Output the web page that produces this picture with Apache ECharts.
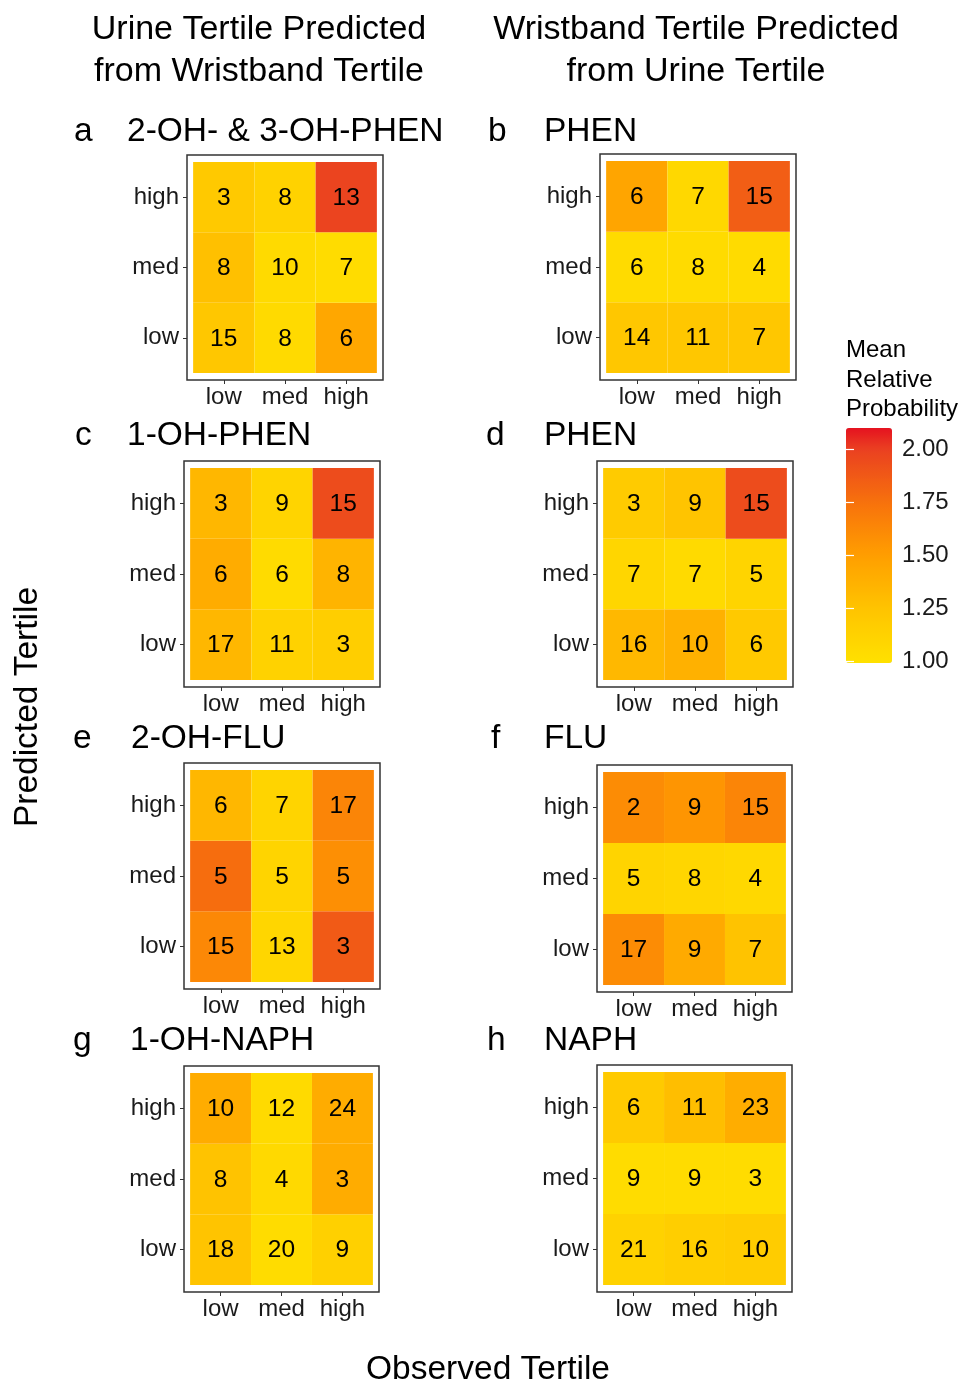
<!DOCTYPE html>
<html>
<head>
<meta charset="utf-8">
<script src="https://cdn.jsdelivr.net/npm/echarts@6/dist/echarts.min.js"></script>
<style>
html,body{margin:0;padding:0;background:#fff;}
#chart{width:962px;height:1384px;}
</style>
</head>
<body>
<div id="chart"></div>
<script>
// ---------- data ----------
const tertiles = ['low', 'med', 'high'];
const panelLetters = ['a', 'b', 'c', 'd', 'e', 'f', 'g', 'h'];
const panelTitles = ['2-OH- & 3-OH-PHEN', 'PHEN', '1-OH-PHEN', 'PHEN', '2-OH-FLU', 'FLU', '1-OH-NAPH', 'NAPH'];
const columnTitles = ['Urine Tertile Predicted\nfrom Wristband Tertile', 'Wristband Tertile Predicted\nfrom Urine Tertile'];
const xTitle = 'Observed Tertile';
const yTitle = 'Predicted Tertile';
const legendTitle = 'Mean\nRelative\nProbability';
const legendTicks = [1.00, 1.25, 1.50, 1.75, 2.00];

// rows: predicted low, med, high ; columns: observed low, med, high
const countsA = [[15, 8, 6], [8, 10, 7], [3, 8, 13]];
const countsB = [[14, 11, 7], [6, 8, 4], [6, 7, 15]];
const countsC = [[17, 11, 3], [6, 6, 8], [3, 9, 15]];
const countsD = [[16, 10, 6], [7, 7, 5], [3, 9, 15]];
const countsE = [[15, 13, 3], [5, 5, 5], [6, 7, 17]];
const countsF = [[17, 9, 7], [5, 8, 4], [2, 9, 15]];
const countsG = [[18, 20, 9], [8, 4, 3], [10, 12, 24]];
const countsH = [[21, 16, 10], [9, 9, 3], [6, 11, 23]];

// mean relative probability (fill colour)
const probA = [[1.22, 1.05, 1.44], [1.27, 1.05, 1.03], [1.20, 1.12, 1.98]];
const probB = [[1.22, 1.22, 1.22], [1.04, 1.04, 1.04], [1.45, 1.07, 1.85]];
const probC = [[1.33, 1.12, 1.15], [1.41, 1.04, 1.35], [1.33, 1.10, 1.94]];
const probD = [[1.32, 1.37, 1.20], [1.08, 1.05, 1.10], [1.18, 1.24, 1.94]];
const probE = [[1.62, 1.08, 1.87], [1.77, 1.10, 1.58], [1.33, 1.10, 1.64]];
const probF = [[1.60, 1.42, 1.25], [1.10, 1.08, 1.07], [1.60, 1.55, 1.64]];
const probG = [[1.24, 1.03, 1.14], [1.25, 1.06, 1.41], [1.41, 1.05, 1.41]];
const probH = [[1.12, 1.15, 1.17], [1.03, 1.03, 1.03], [1.19, 1.28, 1.40]];

const allCounts = [countsA, countsB, countsC, countsD, countsE, countsF, countsG, countsH];
const allProbs = [probA, probB, probC, probD, probE, probF, probG, probH];

const probMin = 0.99, probMax = 2.10;

// ---------- layout / style ----------
const FONT = "'Liberation Sans', Arial, sans-serif";
const TXT = '#1a1a1a';
const grids = [
  {left: 187, top: 155, width: 196, height: 225},
  {left: 600, top: 154, width: 196, height: 226},
  {left: 184, top: 461, width: 196, height: 226},
  {left: 597, top: 461, width: 196, height: 226},
  {left: 184, top: 763, width: 196, height: 226},
  {left: 597, top: 765, width: 195, height: 227},
  {left: 184, top: 1066, width: 195, height: 226},
  {left: 597, top: 1065, width: 195, height: 227}
];
const titlePos = [
  [74, 127, 132], [488, 544, 132],
  [75, 127, 436], [486, 544, 436],
  [73, 131, 739], [491, 544, 739],
  [73, 130, 1041], [487, 544, 1041]
];
const colorStops = [
  [0.99, [255, 225, 0]],
  [1.25, [255, 195, 0]],
  [1.50, [255, 158, 0]],
  [1.75, [247, 113, 12]],
  [2.00, [234, 65, 33]],
  [2.10, [229, 18, 32]]
];
function colorAt(v) {
  for (let i = 0; i < colorStops.length - 1; i++) {
    const [v0, c0] = colorStops[i], [v1, c1] = colorStops[i + 1];
    if (v <= v1) {
      const t = (v - v0) / (v1 - v0);
      const c = c0.map((k, j) => Math.round(k + (c1[j] - k) * t));
      return 'rgb(' + c.join(',') + ')';
    }
  }
  return 'rgb(' + colorStops[colorStops.length - 1][1].join(',') + ')';
}
const rampColors = [];
for (let i = 0; i <= 36; i++) rampColors.push(colorAt(probMin + (probMax - probMin) * i / 36));

// ---------- option ----------
const option = {
  animation: false,
  backgroundColor: '#fff',
  grid: [],
  xAxis: [],
  yAxis: [],
  series: [],
  graphic: [],
  visualMap: {
    type: 'continuous',
    min: probMin,
    max: probMax,
    dimension: 2,
    seriesIndex: [0, 1, 2, 3, 4, 5, 6, 7],
    calculable: false,
    hoverLink: false,
    orient: 'vertical',
    left: 846,
    top: 428,
    padding: 0,
    itemWidth: 46,
    itemHeight: 235,
    text: null,
    showLabel: false,
    inRange: {color: rampColors}
  }
};

grids.forEach((g, i) => {
  option.grid.push(Object.assign({show: true, borderColor: '#333', borderWidth: 1.5, backgroundColor: '#fff', containLabel: false}, g));
  const axisCommon = {
    type: 'value', gridIndex: i, min: 0.4, max: 3.6,
    axisLine: {show: false},
    splitLine: {show: false},
    axisTick: {show: true, length: 4, lineStyle: {color: '#333', width: 1}, customValues: [1, 2, 3]},
    axisLabel: {customValues: [1, 2, 3], formatter: v => tertiles[Math.round(v) - 1], fontSize: 24, fontFamily: FONT, color: TXT}
  };
  option.xAxis.push(Object.assign({}, axisCommon, {axisLabel: Object.assign({}, axisCommon.axisLabel, {margin: 5})}));
  option.yAxis.push(Object.assign({}, axisCommon, {axisLabel: Object.assign({}, axisCommon.axisLabel, {margin: 8})}));
  const data = [];
  allCounts[i].forEach((row, r) => row.forEach((n, c) => data.push([c + 1, r + 1, allProbs[i][r][c], n])));
  option.series.push({
    type: 'custom',
    xAxisIndex: i,
    yAxisIndex: i,
    data: data,
    z: 3,
    renderItem: function (params, api) {
      const x = api.value(0), y = api.value(1);
      const p0 = api.coord([x - 0.5, y + 0.5]);
      const p1 = api.coord([x + 0.5, y - 0.5]);
      return {
        type: 'group',
        children: [
          {type: 'rect', shape: {x: p0[0], y: p0[1], width: p1[0] - p0[0], height: p1[1] - p0[1]}, style: {fill: api.visual('color')}},
          {type: 'text', style: {text: String(api.value(3)), x: (p0[0] + p1[0]) / 2, y: (p0[1] + p1[1]) / 2 + 1, align: 'center', verticalAlign: 'middle', fontSize: 24.5, fontFamily: FONT, fill: '#000'}}
        ]
      };
    }
  });
  const tp = titlePos[i];
  option.graphic.push({type: 'text', x: tp[0], y: tp[2], style: {text: panelLetters[i], fontSize: 33.5, fontFamily: FONT, fill: '#000', align: 'left', verticalAlign: 'middle'}});
  option.graphic.push({type: 'text', x: tp[1], y: tp[2], style: {text: panelTitles[i], fontSize: 33.5, fontFamily: FONT, fill: '#000', align: 'left', verticalAlign: 'middle'}});
});

// colour bar axes (labels and white ticks)
option.grid.push({left: 846, top: 428, width: 46, height: 235, show: false});
option.xAxis.push({type: 'value', gridIndex: 8, show: false, min: 0, max: 1});
const cbAxis = {
  type: 'value', gridIndex: 8, min: probMin, max: probMax, z: 10,
  axisLine: {show: false}, splitLine: {show: false},
  axisTick: {show: true, inside: true, length: 8, lineStyle: {color: '#fff', width: 1.2}, customValues: legendTicks}
};
option.yAxis.push(Object.assign({}, cbAxis, {position: 'right',
  axisLabel: {customValues: legendTicks, formatter: v => v.toFixed(2), fontSize: 24, fontFamily: FONT, color: TXT, margin: 10}}));
option.yAxis.push(Object.assign({}, cbAxis, {position: 'left', axisLabel: {show: false}}));

// shared texts
option.graphic.push({type: 'text', x: 259, y: 51, style: {text: columnTitles[0], fontSize: 34, lineHeight: 42, fontFamily: FONT, fill: '#000', align: 'center', verticalAlign: 'middle'}});
option.graphic.push({type: 'text', x: 696, y: 51, style: {text: columnTitles[1], fontSize: 34, lineHeight: 42, fontFamily: FONT, fill: '#000', align: 'center', verticalAlign: 'middle'}});
option.graphic.push({type: 'text', x: 488, y: 1370, style: {text: xTitle, fontSize: 33.5, fontFamily: FONT, fill: '#000', align: 'center', verticalAlign: 'middle'}});
option.graphic.push({type: 'text', x: 28, y: 707, rotation: Math.PI / 2, style: {text: yTitle, fontSize: 33.5, fontFamily: FONT, fill: '#000', align: 'center', verticalAlign: 'middle'}});
option.graphic.push({type: 'text', x: 846, y: 380, style: {text: legendTitle, fontSize: 24, lineHeight: 29.5, fontFamily: FONT, fill: '#000', align: 'left', verticalAlign: 'middle'}});

const chart = echarts.init(document.getElementById('chart'), null, {renderer: 'canvas'});
chart.setOption(option);
</script>
</body>
</html>
